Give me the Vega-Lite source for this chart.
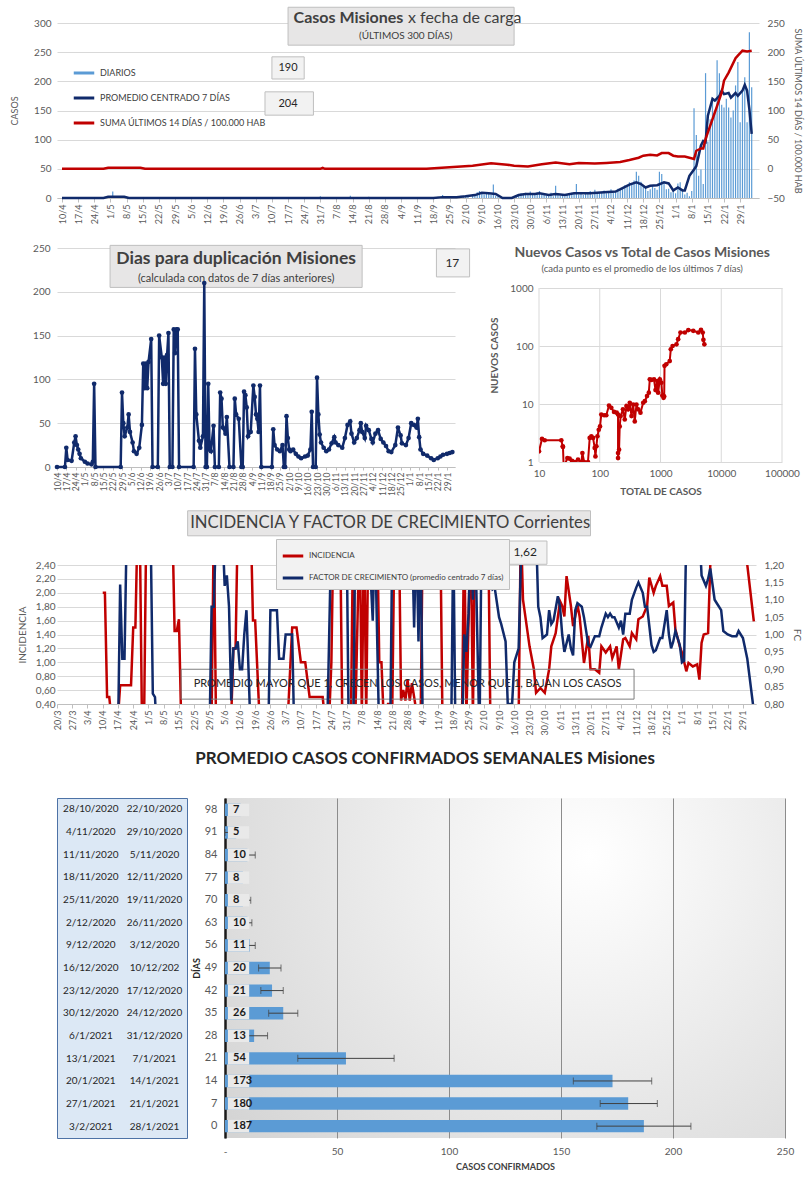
{
"$schema": "https://vega.github.io/schema/vega-lite/v6.json",
"padding": {"left": 10, "top": 6, "right": 4, "bottom": 4},
"background": "white",
"spacing": 14,
"columns": 1,
"resolve": {"scale": {"color": "independent"}, "legend": {"color": "independent"}},
"config": {
  "font": "Lato",
  "locale": {"number": {"decimal": ",", "thousands": ".", "grouping": [3], "currency": ["$", ""]}},
  "view": {"stroke": null},
  "axis": {"labelColor": "#595959", "titleColor": "#595959", "titleFontWeight": "normal", "gridColor": "#d9d9d9", "domainColor": "#bfbfbf", "tickColor": "#bfbfbf", "labelOverlap": false, "labelFlush": false}
},
"datasets": {
  "diarios": [{"d":"2020-05-02","v":11},{"d":"2020-05-03","v":3},{"d":"2020-05-04","v":2},{"d":"2020-07-31","v":3},{"d":"2020-08-13","v":4},{"d":"2020-08-21","v":2},{"d":"2020-09-10","v":1},{"d":"2020-09-17","v":1},{"d":"2020-09-20","v":2},{"d":"2020-09-22","v":5},{"d":"2020-09-24","v":2},{"d":"2020-09-27","v":3},{"d":"2020-09-30","v":4},{"d":"2020-10-01","v":2},{"d":"2020-10-02","v":5},{"d":"2020-10-03","v":3},{"d":"2020-10-05","v":6},{"d":"2020-10-06","v":4},{"d":"2020-10-07","v":10},{"d":"2020-10-08","v":12},{"d":"2020-10-09","v":8},{"d":"2020-10-10","v":6},{"d":"2020-10-11","v":9},{"d":"2020-10-12","v":7},{"d":"2020-10-13","v":5},{"d":"2020-10-14","v":23},{"d":"2020-10-15","v":4},{"d":"2020-10-16","v":3},{"d":"2020-10-24","v":3},{"d":"2020-10-25","v":6},{"d":"2020-10-26","v":8},{"d":"2020-10-27","v":5},{"d":"2020-10-28","v":9},{"d":"2020-10-29","v":7},{"d":"2020-10-30","v":11},{"d":"2020-10-31","v":6},{"d":"2020-11-01","v":8},{"d":"2020-11-02","v":10},{"d":"2020-11-03","v":12},{"d":"2020-11-04","v":5},{"d":"2020-11-05","v":7},{"d":"2020-11-06","v":4},{"d":"2020-11-07","v":6},{"d":"2020-11-08","v":9},{"d":"2020-11-09","v":3},{"d":"2020-11-10","v":21},{"d":"2020-11-11","v":5},{"d":"2020-11-12","v":4},{"d":"2020-11-13","v":6},{"d":"2020-11-14","v":3},{"d":"2020-11-15","v":7},{"d":"2020-11-16","v":5},{"d":"2020-11-17","v":9},{"d":"2020-11-18","v":8},{"d":"2020-11-19","v":24},{"d":"2020-11-20","v":6},{"d":"2020-11-21","v":7},{"d":"2020-11-22","v":5},{"d":"2020-11-23","v":9},{"d":"2020-11-24","v":8},{"d":"2020-11-25","v":12},{"d":"2020-11-26","v":6},{"d":"2020-11-27","v":14},{"d":"2020-11-28","v":7},{"d":"2020-11-29","v":10},{"d":"2020-11-30","v":9},{"d":"2020-12-01","v":13},{"d":"2020-12-02","v":8},{"d":"2020-12-03","v":11},{"d":"2020-12-04","v":15},{"d":"2020-12-05","v":9},{"d":"2020-12-06","v":12},{"d":"2020-12-07","v":16},{"d":"2020-12-08","v":14},{"d":"2020-12-09","v":18},{"d":"2020-12-10","v":22},{"d":"2020-12-11","v":19},{"d":"2020-12-12","v":27},{"d":"2020-12-13","v":24},{"d":"2020-12-14","v":30},{"d":"2020-12-15","v":45},{"d":"2020-12-16","v":38},{"d":"2020-12-17","v":28},{"d":"2020-12-18","v":22},{"d":"2020-12-19","v":18},{"d":"2020-12-20","v":12},{"d":"2020-12-21","v":15},{"d":"2020-12-22","v":20},{"d":"2020-12-23","v":17},{"d":"2020-12-24","v":14},{"d":"2020-12-25","v":45},{"d":"2020-12-26","v":41},{"d":"2020-12-27","v":28},{"d":"2020-12-28","v":15},{"d":"2020-12-29","v":16},{"d":"2020-12-30","v":10},{"d":"2020-12-31","v":12},{"d":"2021-01-01","v":8},{"d":"2021-01-02","v":25},{"d":"2021-01-03","v":27},{"d":"2021-01-04","v":12},{"d":"2021-01-05","v":6},{"d":"2021-01-06","v":9},{"d":"2021-01-07","v":3},{"d":"2021-01-08","v":12},{"d":"2021-01-09","v":154},{"d":"2021-01-10","v":108},{"d":"2021-01-11","v":38},{"d":"2021-01-12","v":49},{"d":"2021-01-13","v":24},{"d":"2021-01-14","v":214},{"d":"2021-01-15","v":97},{"d":"2021-01-16","v":135},{"d":"2021-01-17","v":172},{"d":"2021-01-18","v":150},{"d":"2021-01-19","v":236},{"d":"2021-01-20","v":214},{"d":"2021-01-21","v":160},{"d":"2021-01-22","v":155},{"d":"2021-01-23","v":170},{"d":"2021-01-24","v":155},{"d":"2021-01-25","v":138},{"d":"2021-01-26","v":150},{"d":"2021-01-27","v":193},{"d":"2021-01-28","v":233},{"d":"2021-01-29","v":130},{"d":"2021-01-30","v":184},{"d":"2021-01-31","v":207},{"d":"2021-02-01","v":130},{"d":"2021-02-02","v":284},{"d":"2021-02-03","v":190}],
  "prom": [{"d":"2020-04-10","v":0},{"d":"2020-04-28","v":0},{"d":"2020-04-30","v":2},{"d":"2020-05-07","v":2},{"d":"2020-05-09","v":0},{"d":"2020-09-18","v":0},{"d":"2020-09-22","v":1.5},{"d":"2020-09-28","v":1.5},{"d":"2020-10-02","v":3},{"d":"2020-10-06","v":5},{"d":"2020-10-09","v":9},{"d":"2020-10-12","v":8},{"d":"2020-10-15","v":7},{"d":"2020-10-18","v":0},{"d":"2020-10-22","v":0},{"d":"2020-10-25","v":5},{"d":"2020-10-28","v":7},{"d":"2020-11-01","v":7},{"d":"2020-11-03","v":8},{"d":"2020-11-07","v":5},{"d":"2020-11-10","v":7},{"d":"2020-11-14","v":5},{"d":"2020-11-18","v":8},{"d":"2020-11-25","v":8},{"d":"2020-12-01","v":10},{"d":"2020-12-06","v":11},{"d":"2020-12-09","v":17},{"d":"2020-12-12","v":23},{"d":"2020-12-15","v":27},{"d":"2020-12-17","v":24},{"d":"2020-12-19","v":18},{"d":"2020-12-21","v":21},{"d":"2020-12-24","v":22},{"d":"2020-12-27","v":27},{"d":"2020-12-29","v":25},{"d":"2020-12-31","v":13},{"d":"2021-01-02","v":18},{"d":"2021-01-04","v":13},{"d":"2021-01-05","v":13},{"d":"2021-01-07","v":38},{"d":"2021-01-09","v":49},{"d":"2021-01-10","v":55},{"d":"2021-01-12","v":90},{"d":"2021-01-13","v":98},{"d":"2021-01-14","v":96},{"d":"2021-01-15","v":141},{"d":"2021-01-17","v":170},{"d":"2021-01-18","v":167},{"d":"2021-01-20","v":175},{"d":"2021-01-21","v":184},{"d":"2021-01-22","v":178},{"d":"2021-01-24","v":180},{"d":"2021-01-25","v":172},{"d":"2021-01-27","v":180},{"d":"2021-01-28","v":175},{"d":"2021-01-30","v":184},{"d":"2021-01-31","v":194},{"d":"2021-02-01","v":184},{"d":"2021-02-02","v":152},{"d":"2021-02-03","v":110}],
  "suma": [{"d":"2020-04-10","v":0},{"d":"2020-04-28","v":0},{"d":"2020-04-30","v":2},{"d":"2020-05-14","v":2},{"d":"2020-05-16","v":0},{"d":"2020-07-31","v":0},{"d":"2020-08-01","v":1.5},{"d":"2020-08-02","v":0},{"d":"2020-09-15","v":0},{"d":"2020-09-25","v":2.6},{"d":"2020-10-05","v":5.4},{"d":"2020-10-13","v":9.5},{"d":"2020-10-20","v":7},{"d":"2020-10-23","v":5.4},{"d":"2020-10-29","v":4},{"d":"2020-11-04","v":7.7},{"d":"2020-11-10","v":10.9},{"d":"2020-11-16","v":7.7},{"d":"2020-11-20","v":10},{"d":"2020-11-27","v":9},{"d":"2020-12-02","v":10},{"d":"2020-12-08","v":11.6},{"d":"2020-12-12","v":15},{"d":"2020-12-16","v":19},{"d":"2020-12-18","v":22.5},{"d":"2020-12-21","v":24},{"d":"2020-12-24","v":23},{"d":"2020-12-26","v":27},{"d":"2020-12-29","v":27},{"d":"2020-12-31","v":22.5},{"d":"2021-01-02","v":21},{"d":"2021-01-05","v":21},{"d":"2021-01-07","v":19},{"d":"2021-01-09","v":17},{"d":"2021-01-10","v":31},{"d":"2021-01-12","v":35},{"d":"2021-01-13","v":35},{"d":"2021-01-14","v":51},{"d":"2021-01-15","v":62.6},{"d":"2021-01-17","v":85},{"d":"2021-01-19","v":108},{"d":"2021-01-21","v":131},{"d":"2021-01-22","v":151},{"d":"2021-01-24","v":165},{"d":"2021-01-27","v":189.5},{"d":"2021-01-28","v":194},{"d":"2021-01-30","v":202.5},{"d":"2021-02-01","v":201},{"d":"2021-02-03","v":202.5}],
  "dup": [{"d":"2020-04-10","v":0},{"d":"2020-04-16","v":0},{"d":"2020-04-17","v":22},{"d":"2020-04-18","v":8},{"d":"2020-04-21","v":7},{"d":"2020-04-23","v":28},{"d":"2020-04-24","v":35},{"d":"2020-04-25","v":25},{"d":"2020-04-26","v":20},{"d":"2020-04-27","v":15},{"d":"2020-04-28","v":10},{"d":"2020-05-01","v":6},{"d":"2020-05-03","v":4},{"d":"2020-05-06","v":3},{"d":"2020-05-07","v":6},{"d":"2020-05-08","v":95},{"d":"2020-05-09","v":0},{"d":"2020-05-28","v":0},{"d":"2020-05-29","v":85},{"d":"2020-05-30","v":50},{"d":"2020-05-31","v":35},{"d":"2020-06-02","v":45},{"d":"2020-06-03","v":60},{"d":"2020-06-04","v":40},{"d":"2020-06-06","v":28},{"d":"2020-06-07","v":18},{"d":"2020-06-09","v":15},{"d":"2020-06-11","v":22},{"d":"2020-06-13","v":48},{"d":"2020-06-14","v":118},{"d":"2020-06-15","v":90},{"d":"2020-06-16","v":118},{"d":"2020-06-17","v":90},{"d":"2020-06-18","v":120},{"d":"2020-06-20","v":146},{"d":"2020-06-21","v":0},{"d":"2020-06-25","v":0},{"d":"2020-06-26","v":150},{"d":"2020-06-28","v":125},{"d":"2020-06-29","v":95},{"d":"2020-06-30","v":125},{"d":"2020-07-01","v":95},{"d":"2020-07-02","v":128},{"d":"2020-07-03","v":153},{"d":"2020-07-04","v":0},{"d":"2020-07-06","v":0},{"d":"2020-07-07","v":157},{"d":"2020-07-08","v":130},{"d":"2020-07-09","v":157},{"d":"2020-07-10","v":157},{"d":"2020-07-11","v":0},{"d":"2020-07-22","v":0},{"d":"2020-07-23","v":135},{"d":"2020-07-24","v":60},{"d":"2020-07-26","v":30},{"d":"2020-07-27","v":22},{"d":"2020-07-29","v":35},{"d":"2020-07-30","v":210},{"d":"2020-07-31","v":0},{"d":"2020-08-01","v":0},{"d":"2020-08-02","v":95},{"d":"2020-08-03","v":20},{"d":"2020-08-04","v":18},{"d":"2020-08-06","v":47},{"d":"2020-08-07","v":0},{"d":"2020-08-10","v":0},{"d":"2020-08-11","v":85},{"d":"2020-08-12","v":78},{"d":"2020-08-13","v":45},{"d":"2020-08-15","v":38},{"d":"2020-08-16","v":57},{"d":"2020-08-18","v":0},{"d":"2020-08-21","v":0},{"d":"2020-08-22","v":78},{"d":"2020-08-23","v":60},{"d":"2020-08-25","v":55},{"d":"2020-08-27","v":0},{"d":"2020-08-28","v":0},{"d":"2020-08-29","v":86},{"d":"2020-08-30","v":82},{"d":"2020-08-31","v":68},{"d":"2020-09-01","v":35},{"d":"2020-09-03","v":40},{"d":"2020-09-05","v":93},{"d":"2020-09-06","v":80},{"d":"2020-09-07","v":60},{"d":"2020-09-08","v":55},{"d":"2020-09-09","v":40},{"d":"2020-09-10","v":93},{"d":"2020-09-11","v":0},{"d":"2020-09-19","v":0},{"d":"2020-09-20","v":43},{"d":"2020-09-21","v":25},{"d":"2020-09-23","v":20},{"d":"2020-09-25","v":18},{"d":"2020-09-27","v":25},{"d":"2020-09-28","v":0},{"d":"2020-09-29","v":0},{"d":"2020-09-30","v":58},{"d":"2020-10-01","v":33},{"d":"2020-10-02","v":20},{"d":"2020-10-03","v":18},{"d":"2020-10-05","v":20},{"d":"2020-10-07","v":15},{"d":"2020-10-09","v":12},{"d":"2020-10-11","v":10},{"d":"2020-10-14","v":12},{"d":"2020-10-16","v":13},{"d":"2020-10-18","v":20},{"d":"2020-10-19","v":63},{"d":"2020-10-20","v":0},{"d":"2020-10-22","v":0},{"d":"2020-10-23","v":102},{"d":"2020-10-24","v":60},{"d":"2020-10-25","v":37},{"d":"2020-10-26","v":28},{"d":"2020-10-28","v":22},{"d":"2020-10-30","v":18},{"d":"2020-11-01","v":20},{"d":"2020-11-03","v":27},{"d":"2020-11-05","v":34},{"d":"2020-11-06","v":28},{"d":"2020-11-08","v":25},{"d":"2020-11-11","v":22},{"d":"2020-11-13","v":33},{"d":"2020-11-15","v":48},{"d":"2020-11-17","v":52},{"d":"2020-11-18","v":38},{"d":"2020-11-20","v":28},{"d":"2020-11-22","v":33},{"d":"2020-11-24","v":42},{"d":"2020-11-25","v":50},{"d":"2020-11-26","v":40},{"d":"2020-11-28","v":33},{"d":"2020-11-29","v":47},{"d":"2020-12-01","v":42},{"d":"2020-12-03","v":32},{"d":"2020-12-04","v":28},{"d":"2020-12-06","v":38},{"d":"2020-12-08","v":42},{"d":"2020-12-10","v":32},{"d":"2020-12-12","v":28},{"d":"2020-12-14","v":24},{"d":"2020-12-16","v":18},{"d":"2020-12-18","v":17},{"d":"2020-12-21","v":25},{"d":"2020-12-23","v":45},{"d":"2020-12-25","v":36},{"d":"2020-12-26","v":27},{"d":"2020-12-29","v":25},{"d":"2020-12-31","v":33},{"d":"2021-01-02","v":50},{"d":"2021-01-04","v":48},{"d":"2021-01-06","v":45},{"d":"2021-01-07","v":55},{"d":"2021-01-08","v":34},{"d":"2021-01-09","v":20},{"d":"2021-01-11","v":15},{"d":"2021-01-14","v":13},{"d":"2021-01-17","v":10},{"d":"2021-01-19","v":8},{"d":"2021-01-22","v":10},{"d":"2021-01-24","v":12},{"d":"2021-01-26","v":14},{"d":"2021-01-29","v":15},{"d":"2021-01-31","v":16},{"d":"2021-02-02","v":17}],
  "nvt": [{"total":10,"nuevos":1.53},{"total":11.2,"nuevos":2.5},{"total":12.4,"nuevos":2.37},{"total":23.3,"nuevos":2.37},{"total":24.6,"nuevos":1.87},{"total":24.8,"nuevos":1.82},{"total":25.5,"nuevos":0.8},{"total":29.3,"nuevos":1.17},{"total":31.9,"nuevos":1.14},{"total":35,"nuevos":1.05},{"total":38.7,"nuevos":1.0},{"total":43.9,"nuevos":1.1},{"total":49.9,"nuevos":1.0},{"total":51.8,"nuevos":1.43},{"total":55.3,"nuevos":1.0},{"total":64,"nuevos":1.0},{"total":68.3,"nuevos":2.6},{"total":72.7,"nuevos":2.78},{"total":77.6,"nuevos":2.6},{"total":82.6,"nuevos":1.75},{"total":84.9,"nuevos":1.25},{"total":88.1,"nuevos":1.87},{"total":91.6,"nuevos":2.78},{"total":96.3,"nuevos":3.6},{"total":101,"nuevos":4.1},{"total":106,"nuevos":6.6},{"total":118,"nuevos":6.4},{"total":128,"nuevos":6.4},{"total":142,"nuevos":9.4},{"total":155,"nuevos":8.6},{"total":172,"nuevos":7.3},{"total":190,"nuevos":7.1},{"total":200,"nuevos":6.6},{"total":200,"nuevos":1.43},{"total":200,"nuevos":1.17},{"total":208,"nuevos":1.63},{"total":213,"nuevos":4.1},{"total":221,"nuevos":6.2},{"total":241,"nuevos":8.1},{"total":258,"nuevos":5.4},{"total":275,"nuevos":9.2},{"total":292,"nuevos":8.1},{"total":312,"nuevos":10.5},{"total":333,"nuevos":6.2},{"total":355,"nuevos":9.8},{"total":377,"nuevos":5.0},{"total":402,"nuevos":9.8},{"total":428,"nuevos":8.1},{"total":468,"nuevos":7.1},{"total":519,"nuevos":10.5},{"total":552,"nuevos":11.2},{"total":600,"nuevos":13.7},{"total":642,"nuevos":15.7},{"total":666,"nuevos":26.6},{"total":708,"nuevos":26},{"total":782,"nuevos":26.6},{"total":827,"nuevos":17.4},{"total":885,"nuevos":24.9},{"total":914,"nuevos":15.7},{"total":975,"nuevos":26.6},{"total":1035,"nuevos":23.3},{"total":1072,"nuevos":14},{"total":1122,"nuevos":12.8},{"total":1150,"nuevos":13.5},{"total":1165,"nuevos":45.5},{"total":1244,"nuevos":48.5},{"total":1418,"nuevos":55},{"total":1477,"nuevos":88},{"total":1581,"nuevos":100},{"total":1833,"nuevos":107},{"total":1952,"nuevos":131},{"total":2130,"nuevos":171},{"total":2520,"nuevos":171},{"total":2868,"nuevos":188},{"total":3462,"nuevos":183},{"total":4180,"nuevos":171},{"total":4638,"nuevos":190},{"total":4955,"nuevos":171},{"total":5084,"nuevos":128},{"total":5270,"nuevos":107}],
  "inc": [{"d":"2020-04-10","v":2.0},{"d":"2020-04-11","v":2.0},{"d":"2020-04-12","v":0.5},{"d":"2020-04-13","v":0.5},{"d":"2020-04-14","v":0.2},{"d":"2020-04-17","v":0.2},{"d":"2020-04-18","v":0.67},{"d":"2020-04-23","v":0.67},{"d":"2020-04-24","v":1.5},{"d":"2020-04-25","v":1.5},{"d":"2020-04-26","v":3},{"d":"2020-04-27","v":3},{"d":"2020-04-28","v":0.2},{"d":"2020-04-29","v":0.2},{"d":"2020-04-30","v":3},{"d":"2020-05-12","v":3},{"d":"2020-05-13","v":1.45},{"d":"2020-05-14","v":1.45},{"d":"2020-05-15","v":1.62},{"d":"2020-05-16","v":0.2},{"d":"2020-05-30","v":0.2},{"d":"2020-05-31","v":3},{"d":"2020-06-01","v":0.2},{"d":"2020-06-08","v":0.2},{"d":"2020-06-09","v":1.2},{"d":"2020-06-10","v":1.2},{"d":"2020-06-11","v":3},{"d":"2020-06-17","v":3},{"d":"2020-06-18","v":1.6},{"d":"2020-06-19","v":1.6},{"d":"2020-06-21","v":0.2},{"d":"2020-07-04","v":0.2},{"d":"2020-07-06","v":1.5},{"d":"2020-07-08","v":1.5},{"d":"2020-07-10","v":1.0},{"d":"2020-07-12","v":1.0},{"d":"2020-07-14","v":0.5},{"d":"2020-07-20","v":0.5},{"d":"2020-07-21","v":0.2},{"d":"2020-07-23","v":0.2},{"d":"2020-07-24","v":1.0},{"d":"2020-07-25","v":3},{"d":"2020-07-28","v":3},{"d":"2020-07-29","v":0.2},{"d":"2020-08-02","v":0.2},{"d":"2020-08-03","v":3},{"d":"2020-08-04","v":0.2},{"d":"2020-08-06","v":3},{"d":"2020-08-07","v":0.2},{"d":"2020-08-08","v":3},{"d":"2020-08-09","v":0.2},{"d":"2020-08-10","v":3},{"d":"2020-08-14","v":3},{"d":"2020-08-15","v":1.0},{"d":"2020-08-16","v":1.0},{"d":"2020-08-17","v":0.2},{"d":"2020-08-19","v":0.4},{"d":"2020-08-21","v":0.4},{"d":"2020-08-22","v":3},{"d":"2020-08-24","v":3},{"d":"2020-08-25","v":0.45},{"d":"2020-08-26","v":0.6},{"d":"2020-08-27","v":0.45},{"d":"2020-08-28","v":0.75},{"d":"2020-08-29","v":0.45},{"d":"2020-08-30","v":0.7},{"d":"2020-09-01","v":0.3},{"d":"2020-09-03","v":0.2},{"d":"2020-09-04","v":3},{"d":"2020-09-06","v":2.3},{"d":"2020-09-07","v":2.15},{"d":"2020-09-08","v":2.3},{"d":"2020-09-09","v":2.15},{"d":"2020-09-10","v":2.25},{"d":"2020-09-11","v":3},{"d":"2020-09-12","v":3},{"d":"2020-09-13","v":0.2},{"d":"2020-09-22","v":0.2},{"d":"2020-09-23","v":3},{"d":"2020-09-24","v":0.2},{"d":"2020-09-26","v":3},{"d":"2020-09-27","v":0.2},{"d":"2020-09-28","v":3},{"d":"2020-09-30","v":2.2},{"d":"2020-10-01","v":2.3},{"d":"2020-10-02","v":2.1},{"d":"2020-10-03","v":2.3},{"d":"2020-10-04","v":3},{"d":"2020-10-05","v":0.2},{"d":"2020-10-18","v":0.2},{"d":"2020-10-19","v":3},{"d":"2020-10-20","v":1.9},{"d":"2020-10-23","v":1.23},{"d":"2020-10-25","v":0.9},{"d":"2020-10-26","v":0.56},{"d":"2020-10-28","v":0.63},{"d":"2020-10-30","v":0.56},{"d":"2020-11-01","v":0.9},{"d":"2020-11-02","v":1.23},{"d":"2020-11-04","v":1.42},{"d":"2020-11-06","v":1.88},{"d":"2020-11-07","v":1.81},{"d":"2020-11-08","v":1.66},{"d":"2020-11-09","v":2.24},{"d":"2020-11-11","v":1.81},{"d":"2020-11-12","v":1.52},{"d":"2020-11-13","v":1.66},{"d":"2020-11-14","v":1.83},{"d":"2020-11-15","v":1.66},{"d":"2020-11-17","v":0.99},{"d":"2020-11-19","v":1.38},{"d":"2020-11-20","v":0.9},{"d":"2020-11-22","v":0.9},{"d":"2020-11-24","v":0.85},{"d":"2020-11-25","v":1.23},{"d":"2020-11-27","v":1.14},{"d":"2020-11-29","v":1.23},{"d":"2020-11-30","v":1.06},{"d":"2020-12-02","v":1.23},{"d":"2020-12-03","v":0.9},{"d":"2020-12-05","v":1.33},{"d":"2020-12-06","v":1.35},{"d":"2020-12-08","v":1.23},{"d":"2020-12-09","v":1.42},{"d":"2020-12-11","v":1.33},{"d":"2020-12-12","v":1.62},{"d":"2020-12-14","v":1.66},{"d":"2020-12-16","v":1.81},{"d":"2020-12-17","v":2.22},{"d":"2020-12-19","v":2.0},{"d":"2020-12-20","v":2.1},{"d":"2020-12-22","v":2.24},{"d":"2020-12-23","v":2.1},{"d":"2020-12-25","v":2.1},{"d":"2020-12-26","v":1.81},{"d":"2020-12-28","v":1.86},{"d":"2020-12-29","v":1.47},{"d":"2020-12-31","v":1.23},{"d":"2021-01-01","v":1.14},{"d":"2021-01-03","v":0.87},{"d":"2021-01-04","v":0.99},{"d":"2021-01-06","v":0.94},{"d":"2021-01-08","v":0.97},{"d":"2021-01-09","v":0.75},{"d":"2021-01-10","v":1.28},{"d":"2021-01-11","v":1.4},{"d":"2021-01-13","v":1.42},{"d":"2021-01-14","v":2.4},{"d":"2021-01-16","v":3},{"d":"2021-01-30","v":3},{"d":"2021-01-31","v":2.4},{"d":"2021-02-03","v":1.59}],
  "fc": [{"d":"2020-04-17","v":0.7},{"d":"2020-04-18","v":1.144},{"d":"2020-04-19","v":0.93},{"d":"2020-04-20","v":0.93},{"d":"2020-04-21","v":1.3},{"d":"2020-05-02","v":1.3},{"d":"2020-05-03","v":0.83},{"d":"2020-05-04","v":0.82},{"d":"2020-05-05","v":0.7},{"d":"2020-05-29","v":0.7},{"d":"2020-05-30","v":1.08},{"d":"2020-05-31","v":1.08},{"d":"2020-06-01","v":1.3},{"d":"2020-06-04","v":1.3},{"d":"2020-06-05","v":1.14},{"d":"2020-06-06","v":1.17},{"d":"2020-06-07","v":1.08},{"d":"2020-06-08","v":0.81},{"d":"2020-06-09","v":0.96},{"d":"2020-06-10","v":0.96},{"d":"2020-06-11","v":0.98},{"d":"2020-06-12","v":0.9},{"d":"2020-06-13","v":0.9},{"d":"2020-06-14","v":1.0},{"d":"2020-06-15","v":1.07},{"d":"2020-06-16","v":0.89},{"d":"2020-06-17","v":0.7},{"d":"2020-06-25","v":0.7},{"d":"2020-06-26","v":1.07},{"d":"2020-06-29","v":1.07},{"d":"2020-06-30","v":0.93},{"d":"2020-07-02","v":0.93},{"d":"2020-07-03","v":1.0},{"d":"2020-07-06","v":1.0},{"d":"2020-07-07","v":0.7},{"d":"2020-07-22","v":0.7},{"d":"2020-07-24","v":1.3},{"d":"2020-07-31","v":1.3},{"d":"2020-08-01","v":0.7},{"d":"2020-08-03","v":0.7},{"d":"2020-08-04","v":1.3},{"d":"2020-08-10","v":1.3},{"d":"2020-08-12","v":1.04},{"d":"2020-08-13","v":1.3},{"d":"2020-08-15","v":0.7},{"d":"2020-08-20","v":0.7},{"d":"2020-08-21","v":1.3},{"d":"2020-08-30","v":1.3},{"d":"2020-08-31","v":1.02},{"d":"2020-09-01","v":1.3},{"d":"2020-09-02","v":0.98},{"d":"2020-09-03","v":1.3},{"d":"2020-09-04","v":0.7},{"d":"2020-09-17","v":0.7},{"d":"2020-09-18","v":1.3},{"d":"2020-09-19","v":0.7},{"d":"2020-09-22","v":0.7},{"d":"2020-09-23","v":1.0},{"d":"2020-09-24","v":0.95},{"d":"2020-09-25","v":1.06},{"d":"2020-09-26","v":1.3},{"d":"2020-09-27","v":1.1},{"d":"2020-09-28","v":1.3},{"d":"2020-09-30","v":0.7},{"d":"2020-10-01","v":1.3},{"d":"2020-10-03","v":1.2},{"d":"2020-10-04","v":1.17},{"d":"2020-10-06","v":1.13},{"d":"2020-10-07","v":1.135},{"d":"2020-10-09","v":1.05},{"d":"2020-10-10","v":1.03},{"d":"2020-10-12","v":0.98},{"d":"2020-10-13","v":0.8},{"d":"2020-10-15","v":0.8},{"d":"2020-10-16","v":0.92},{"d":"2020-10-18","v":0.96},{"d":"2020-10-19","v":1.2},{"d":"2020-10-20","v":1.3},{"d":"2020-10-26","v":1.3},{"d":"2020-10-27","v":1.08},{"d":"2020-10-28","v":1.05},{"d":"2020-10-29","v":0.99},{"d":"2020-10-31","v":1.0},{"d":"2020-11-01","v":1.07},{"d":"2020-11-02","v":1.03},{"d":"2020-11-03","v":1.04},{"d":"2020-11-05","v":1.11},{"d":"2020-11-06","v":1.08},{"d":"2020-11-07","v":1.0},{"d":"2020-11-08","v":0.95},{"d":"2020-11-10","v":1.0},{"d":"2020-11-11","v":0.96},{"d":"2020-11-12","v":0.94},{"d":"2020-11-13","v":1.07},{"d":"2020-11-14","v":1.09},{"d":"2020-11-16","v":1.08},{"d":"2020-11-17","v":1.05},{"d":"2020-11-19","v":0.97},{"d":"2020-11-20","v":0.965},{"d":"2020-11-21","v":0.98},{"d":"2020-11-22","v":0.995},{"d":"2020-11-24","v":0.995},{"d":"2020-11-25","v":1.02},{"d":"2020-11-27","v":1.06},{"d":"2020-11-28","v":1.05},{"d":"2020-11-29","v":1.06},{"d":"2020-11-30","v":1.05},{"d":"2020-12-01","v":1.05},{"d":"2020-12-03","v":1.02},{"d":"2020-12-04","v":1.04},{"d":"2020-12-05","v":1.0},{"d":"2020-12-06","v":1.06},{"d":"2020-12-08","v":1.06},{"d":"2020-12-09","v":1.1},{"d":"2020-12-11","v":1.135},{"d":"2020-12-12","v":1.15},{"d":"2020-12-14","v":1.12},{"d":"2020-12-15","v":1.08},{"d":"2020-12-16","v":1.08},{"d":"2020-12-18","v":0.97},{"d":"2020-12-19","v":0.95},{"d":"2020-12-20","v":0.955},{"d":"2020-12-22","v":0.99},{"d":"2020-12-23","v":0.99},{"d":"2020-12-25","v":1.07},{"d":"2020-12-26","v":1.0},{"d":"2020-12-27","v":0.96},{"d":"2020-12-28","v":0.98},{"d":"2020-12-29","v":1.01},{"d":"2020-12-31","v":0.97},{"d":"2021-01-01","v":0.92},{"d":"2021-01-02","v":0.925},{"d":"2021-01-03","v":1.3},{"d":"2021-01-09","v":1.3},{"d":"2021-01-10","v":1.17},{"d":"2021-01-12","v":1.14},{"d":"2021-01-13","v":1.16},{"d":"2021-01-14","v":1.19},{"d":"2021-01-16","v":1.1},{"d":"2021-01-17","v":1.09},{"d":"2021-01-19","v":1.07},{"d":"2021-01-20","v":1.01},{"d":"2021-01-22","v":1.0},{"d":"2021-01-24","v":0.995},{"d":"2021-01-26","v":0.995},{"d":"2021-01-27","v":1.01},{"d":"2021-01-29","v":0.99},{"d":"2021-01-31","v":0.93},{"d":"2021-02-01","v":0.88},{"d":"2021-02-03","v":0.78}],
  "sem": [{"dias":98,"fin":"28/10/2020","ini":"22/10/2020","v":7,"lo":5,"hi":9},{"dias":91,"fin":"4/11/2020","ini":"29/10/2020","v":5,"lo":0,"hi":10},{"dias":84,"fin":"11/11/2020","ini":"5/11/2020","v":10,"lo":6.5,"hi":13.5},{"dias":77,"fin":"18/11/2020","ini":"12/11/2020","v":8,"lo":6,"hi":10},{"dias":70,"fin":"25/11/2020","ini":"19/11/2020","v":8,"lo":4.5,"hi":11.5},{"dias":63,"fin":"2/12/2020","ini":"26/11/2020","v":10,"lo":8,"hi":12},{"dias":56,"fin":"9/12/2020","ini":"3/12/2020","v":11,"lo":8.5,"hi":13.5},{"dias":49,"fin":"16/12/2020","ini":"10/12/202","v":20,"lo":15,"hi":25},{"dias":42,"fin":"23/12/2020","ini":"17/12/2020","v":21,"lo":16,"hi":26},{"dias":35,"fin":"30/12/2020","ini":"24/12/2020","v":26,"lo":19.5,"hi":32.5},{"dias":28,"fin":"6/1/2021","ini":"31/12/2020","v":13,"lo":7,"hi":19},{"dias":21,"fin":"13/1/2021","ini":"7/1/2021","v":54,"lo":32.5,"hi":75.5},{"dias":14,"fin":"20/1/2021","ini":"14/1/2021","v":173,"lo":155.5,"hi":190.5},{"dias":7,"fin":"27/1/2021","ini":"21/1/2021","v":180,"lo":167.5,"hi":193},{"dias":0,"fin":"3/2/2021","ini":"28/1/2021","v":187,"lo":166,"hi":208}]
},
"concat": [
  {
    "width": 702, "height": 175,
    "layer": [
      {"layer": [
        {"data": {"values": [{"t": "box"}]}, "mark": {"type": "rect", "fill": "#e7e6e6", "stroke": "#bfbfbf"}, "encoding": {"x": {"datum": {"year": 2020, "month": 7, "date": 17, "utc": true}, "type": "temporal", "axis": {"values": {"expr": "sequence(utc(2020,3,10), utc(2021,0,30), 604800000)"}, "labelExpr": "utcFormat(datum.value, '%-d/%-m')", "labelAngle": 270, "labelFontSize": 9, "labelOverlap": false, "labelFlush": false, "title": null, "grid": false, "tickSize": 4, "labelPadding": 2}}, "x2": {"datum": {"year": 2020, "month": 10, "date": 23, "utc": true}}, "y": {"datum": 327, "type": "quantitative", "axis": {"values": [0, 50, 100, 150, 200, 250, 300], "title": "CASOS", "titleFontSize": 9, "titlePadding": 14, "labelFontSize": 10, "labelPadding": 6, "labelOverlap": false, "domain": false, "ticks": false, "grid": true}}, "y2": {"datum": 262}}},
        {"data": {"values": [{"t": "Casos Misiones"}]}, "mark": {"type": "text", "fontSize": 16, "fontWeight": "bold", "color": "#404040", "align": "right", "baseline": "middle"}, "encoding": {"x": {"datum": {"year": 2020, "month": 9, "date": 5, "utc": true}, "type": "temporal", "axis": {"values": {"expr": "sequence(utc(2020,3,10), utc(2021,0,30), 604800000)"}, "labelExpr": "utcFormat(datum.value, '%-d/%-m')", "labelAngle": 270, "labelFontSize": 9, "labelOverlap": false, "labelFlush": false, "title": null, "grid": false, "tickSize": 4, "labelPadding": 2}}, "y": {"datum": 309, "type": "quantitative", "axis": {"values": [0, 50, 100, 150, 200, 250, 300], "title": "CASOS", "titleFontSize": 9, "titlePadding": 14, "labelFontSize": 10, "labelPadding": 6, "labelOverlap": false, "domain": false, "ticks": false, "grid": true}}, "text": {"field": "t"}}},
        {"data": {"values": [{"t": "x fecha de carga"}]}, "mark": {"type": "text", "fontSize": 16, "color": "#404040", "align": "left", "baseline": "middle"}, "encoding": {"x": {"datum": {"year": 2020, "month": 9, "date": 7, "utc": true}, "type": "temporal", "axis": {"values": {"expr": "sequence(utc(2020,3,10), utc(2021,0,30), 604800000)"}, "labelExpr": "utcFormat(datum.value, '%-d/%-m')", "labelAngle": 270, "labelFontSize": 9, "labelOverlap": false, "labelFlush": false, "title": null, "grid": false, "tickSize": 4, "labelPadding": 2}}, "y": {"datum": 309, "type": "quantitative", "axis": {"values": [0, 50, 100, 150, 200, 250, 300], "title": "CASOS", "titleFontSize": 9, "titlePadding": 14, "labelFontSize": 10, "labelPadding": 6, "labelOverlap": false, "domain": false, "ticks": false, "grid": true}}, "text": {"field": "t"}}},
        {"data": {"values": [{"t": "(ÚLTIMOS 300 DÍAS)"}]}, "mark": {"type": "text", "fontSize": 10, "color": "#404040", "align": "center", "baseline": "middle"}, "encoding": {"x": {"datum": {"year": 2020, "month": 9, "date": 6, "utc": true}, "type": "temporal", "axis": {"values": {"expr": "sequence(utc(2020,3,10), utc(2021,0,30), 604800000)"}, "labelExpr": "utcFormat(datum.value, '%-d/%-m')", "labelAngle": 270, "labelFontSize": 9, "labelOverlap": false, "labelFlush": false, "title": null, "grid": false, "tickSize": 4, "labelPadding": 2}}, "y": {"datum": 278, "type": "quantitative", "axis": {"values": [0, 50, 100, 150, 200, 250, 300], "title": "CASOS", "titleFontSize": 9, "titlePadding": 14, "labelFontSize": 10, "labelPadding": 6, "labelOverlap": false, "domain": false, "ticks": false, "grid": true}}, "text": {"field": "t"}}},
        {"data": {"values": [{"t": "box"}]}, "mark": {"type": "rect", "fill": "#f2f2f2", "stroke": "#bfbfbf"}, "encoding": {"x": {"datum": {"year": 2020, "month": 7, "date": 10, "utc": true}, "type": "temporal", "axis": {"values": {"expr": "sequence(utc(2020,3,10), utc(2021,0,30), 604800000)"}, "labelExpr": "utcFormat(datum.value, '%-d/%-m')", "labelAngle": 270, "labelFontSize": 9, "labelOverlap": false, "labelFlush": false, "title": null, "grid": false, "tickSize": 4, "labelPadding": 2}}, "x2": {"datum": {"year": 2020, "month": 7, "date": 24, "utc": true}}, "y": {"datum": 242, "type": "quantitative", "axis": {"values": [0, 50, 100, 150, 200, 250, 300], "title": "CASOS", "titleFontSize": 9, "titlePadding": 14, "labelFontSize": 10, "labelPadding": 6, "labelOverlap": false, "domain": false, "ticks": false, "grid": true}}, "y2": {"datum": 204}}},
        {"data": {"values": [{"t": "190"}]}, "mark": {"type": "text", "fontSize": 11, "color": "#262626", "align": "center", "baseline": "middle"}, "encoding": {"x": {"datum": {"year": 2020, "month": 7, "date": 17, "utc": true}, "type": "temporal", "axis": {"values": {"expr": "sequence(utc(2020,3,10), utc(2021,0,30), 604800000)"}, "labelExpr": "utcFormat(datum.value, '%-d/%-m')", "labelAngle": 270, "labelFontSize": 9, "labelOverlap": false, "labelFlush": false, "title": null, "grid": false, "tickSize": 4, "labelPadding": 2}}, "y": {"datum": 223, "type": "quantitative", "axis": {"values": [0, 50, 100, 150, 200, 250, 300], "title": "CASOS", "titleFontSize": 9, "titlePadding": 14, "labelFontSize": 10, "labelPadding": 6, "labelOverlap": false, "domain": false, "ticks": false, "grid": true}}, "text": {"field": "t"}}},
        {"data": {"values": [{"t": "box"}]}, "mark": {"type": "rect", "fill": "#f2f2f2", "stroke": "#bfbfbf"}, "encoding": {"x": {"datum": {"year": 2020, "month": 7, "date": 7, "utc": true}, "type": "temporal", "axis": {"values": {"expr": "sequence(utc(2020,3,10), utc(2021,0,30), 604800000)"}, "labelExpr": "utcFormat(datum.value, '%-d/%-m')", "labelAngle": 270, "labelFontSize": 9, "labelOverlap": false, "labelFlush": false, "title": null, "grid": false, "tickSize": 4, "labelPadding": 2}}, "x2": {"datum": {"year": 2020, "month": 7, "date": 28, "utc": true}}, "y": {"datum": 182, "type": "quantitative", "axis": {"values": [0, 50, 100, 150, 200, 250, 300], "title": "CASOS", "titleFontSize": 9, "titlePadding": 14, "labelFontSize": 10, "labelPadding": 6, "labelOverlap": false, "domain": false, "ticks": false, "grid": true}}, "y2": {"datum": 142}}},
        {"data": {"values": [{"t": "204"}]}, "mark": {"type": "text", "fontSize": 11, "color": "#262626", "align": "center", "baseline": "middle"}, "encoding": {"x": {"datum": {"year": 2020, "month": 7, "date": 17, "utc": true}, "type": "temporal", "axis": {"values": {"expr": "sequence(utc(2020,3,10), utc(2021,0,30), 604800000)"}, "labelExpr": "utcFormat(datum.value, '%-d/%-m')", "labelAngle": 270, "labelFontSize": 9, "labelOverlap": false, "labelFlush": false, "title": null, "grid": false, "tickSize": 4, "labelPadding": 2}}, "y": {"datum": 162, "type": "quantitative", "axis": {"values": [0, 50, 100, 150, 200, 250, 300], "title": "CASOS", "titleFontSize": 9, "titlePadding": 14, "labelFontSize": 10, "labelPadding": 6, "labelOverlap": false, "domain": false, "ticks": false, "grid": true}}, "text": {"field": "t"}}},
        {"data": {"name": "diarios"}, "mark": {"type": "bar", "size": 1.2}, "encoding": {
          "x": {"field": "d", "type": "temporal", "scale": {"type": "utc", "domain": [{"year": 2020, "month": 4, "date": 10, "utc": true}, {"year": 2021, "month": 2, "date": 4, "utc": true}]}, "axis": {"values": {"expr": "sequence(utc(2020,3,10), utc(2021,0,30), 604800000)"}, "labelExpr": "utcFormat(datum.value, '%-d/%-m')", "labelAngle": 270, "labelFontSize": 9, "labelOverlap": false, "labelFlush": false, "title": null, "grid": false, "tickSize": 4, "labelPadding": 2}},
          "y": {"field": "v", "type": "quantitative", "scale": {"domain": [0, 300], "nice": false}, "axis": {"values": [0, 50, 100, 150, 200, 250, 300], "title": "CASOS", "titleFontSize": 9, "titlePadding": 14, "labelFontSize": 10, "labelPadding": 6, "labelOverlap": false, "domain": false, "ticks": false, "grid": true}},
          "color": {"datum": "DIARIOS", "type": "nominal", "scale": {"domain": ["DIARIOS", "PROMEDIO CENTRADO 7 DÍAS", "SUMA ÚLTIMOS 14 DÍAS / 100.000 HAB"], "range": ["#5b9bd5", "#102a6b", "#c00000"]}, "legend": {"orient": "none", "legendX": 15, "legendY": 38, "title": null, "symbolType": "stroke", "symbolStrokeWidth": 3, "symbolSize": 420, "labelFontSize": 9, "labelColor": "#404040", "labelLimit": 0, "rowPadding": 7}}
        }},
        {"data": {"name": "prom"}, "mark": {"type": "line", "strokeWidth": 2.5}, "encoding": {"x": {"field": "d", "type": "temporal", "axis": {"values": {"expr": "sequence(utc(2020,3,10), utc(2021,0,30), 604800000)"}, "labelExpr": "utcFormat(datum.value, '%-d/%-m')", "labelAngle": 270, "labelFontSize": 9, "labelOverlap": false, "labelFlush": false, "title": null, "grid": false, "tickSize": 4, "labelPadding": 2}}, "y": {"field": "v", "type": "quantitative", "axis": {"values": [0, 50, 100, 150, 200, 250, 300], "title": "CASOS", "titleFontSize": 9, "titlePadding": 14, "labelFontSize": 10, "labelPadding": 6, "labelOverlap": false, "domain": false, "ticks": false, "grid": true}}, "color": {"datum": "PROMEDIO CENTRADO 7 DÍAS", "type": "nominal"}}}
      ]},
      {"data": {"name": "suma"}, "mark": {"type": "line", "strokeWidth": 2.5}, "encoding": {
        "x": {"field": "d", "type": "temporal", "axis": {"values": {"expr": "sequence(utc(2020,3,10), utc(2021,0,30), 604800000)"}, "labelExpr": "utcFormat(datum.value, '%-d/%-m')", "labelAngle": 270, "labelFontSize": 9, "labelOverlap": false, "labelFlush": false, "title": null, "grid": false, "tickSize": 4, "labelPadding": 2}},
        "y": {"field": "v", "type": "quantitative", "scale": {"domain": [-50, 250], "nice": false}, "axis": {"orient": "right", "values": [-50, 0, 50, 100, 150, 200, 250], "title": "SUMA  ÚLTIMOS 14 DÍAS / 100.000 HAB", "titleFontSize": 9, "labelFontSize": 10, "labelOverlap": false, "domain": false, "ticks": false, "grid": false, "labelPadding": 8, "titlePadding": 8}},
        "color": {"datum": "SUMA ÚLTIMOS 14 DÍAS / 100.000 HAB", "type": "nominal"}
      }}
    ],
    "resolve": {"scale": {"y": "independent"}}
  },
  {
    "spacing": 18,
    "hconcat": [
      {
        "width": 398, "height": 219,
        "layer": [
          {"data": {"values": [{"t": "box"}]}, "mark": {"type": "rect", "fill": "#e7e6e6", "stroke": "#bfbfbf"}, "encoding": {"x": {"datum": {"year": 2020, "month": 5, "date": 20, "utc": true}, "type": "temporal", "axis": {"values": {"expr": "sequence(utc(2020,3,10), utc(2021,0,30), 604800000)"}, "labelExpr": "utcFormat(datum.value, '%-d/%-m')", "labelAngle": 270, "labelFontSize": 8.5, "labelOverlap": false, "labelFlush": false, "title": null, "grid": false, "tickSize": 3, "labelPadding": 2}}, "x2": {"datum": {"year": 2020, "month": 11, "date": 26, "utc": true}}, "y": {"datum": 253, "type": "quantitative", "axis": {"values": [0, 50, 100, 150, 200, 250], "title": null, "labelFontSize": 10, "labelPadding": 7, "labelOverlap": false, "domain": false, "ticks": false, "grid": true}}, "y2": {"datum": 205}}},
          {"data": {"values": [{"t": "Dias para duplicación Misiones"}]}, "mark": {"type": "text", "fontSize": 17.5, "fontWeight": "bold", "color": "#404040", "align": "center", "baseline": "middle"}, "encoding": {"x": {"datum": {"year": 2020, "month": 8, "date": 23, "utc": true}, "type": "temporal", "axis": {"values": {"expr": "sequence(utc(2020,3,10), utc(2021,0,30), 604800000)"}, "labelExpr": "utcFormat(datum.value, '%-d/%-m')", "labelAngle": 270, "labelFontSize": 8.5, "labelOverlap": false, "labelFlush": false, "title": null, "grid": false, "tickSize": 3, "labelPadding": 2}}, "y": {"datum": 237, "type": "quantitative", "axis": {"values": [0, 50, 100, 150, 200, 250], "title": null, "labelFontSize": 10, "labelPadding": 7, "labelOverlap": false, "domain": false, "ticks": false, "grid": true}}, "text": {"field": "t"}}},
          {"data": {"values": [{"t": "(calculada con datos de 7 días anteriores)"}]}, "mark": {"type": "text", "fontSize": 11, "color": "#404040", "align": "center", "baseline": "middle"}, "encoding": {"x": {"datum": {"year": 2020, "month": 8, "date": 23, "utc": true}, "type": "temporal", "axis": {"values": {"expr": "sequence(utc(2020,3,10), utc(2021,0,30), 604800000)"}, "labelExpr": "utcFormat(datum.value, '%-d/%-m')", "labelAngle": 270, "labelFontSize": 8.5, "labelOverlap": false, "labelFlush": false, "title": null, "grid": false, "tickSize": 3, "labelPadding": 2}}, "y": {"datum": 215, "type": "quantitative", "axis": {"values": [0, 50, 100, 150, 200, 250], "title": null, "labelFontSize": 10, "labelPadding": 7, "labelOverlap": false, "domain": false, "ticks": false, "grid": true}}, "text": {"field": "t"}}},
          {"data": {"values": [{"t": "box"}]}, "mark": {"type": "rect", "fill": "#f2f2f2", "stroke": "#bfbfbf"}, "encoding": {"x": {"datum": {"year": 2021, "month": 1, "date": 21, "utc": true}, "type": "temporal", "axis": {"values": {"expr": "sequence(utc(2020,3,10), utc(2021,0,30), 604800000)"}, "labelExpr": "utcFormat(datum.value, '%-d/%-m')", "labelAngle": 270, "labelFontSize": 8.5, "labelOverlap": false, "labelFlush": false, "title": null, "grid": false, "tickSize": 3, "labelPadding": 2}}, "x2": {"datum": {"year": 2021, "month": 2, "date": 15, "utc": true}}, "y": {"datum": 249, "type": "quantitative", "axis": {"values": [0, 50, 100, 150, 200, 250], "title": null, "labelFontSize": 10, "labelPadding": 7, "labelOverlap": false, "domain": false, "ticks": false, "grid": true}}, "y2": {"datum": 217}}},
          {"data": {"values": [{"t": "17"}]}, "mark": {"type": "text", "fontSize": 12, "color": "#262626", "align": "center", "baseline": "middle"}, "encoding": {"x": {"datum": {"year": 2021, "month": 2, "date": 2, "utc": true}, "type": "temporal", "axis": {"values": {"expr": "sequence(utc(2020,3,10), utc(2021,0,30), 604800000)"}, "labelExpr": "utcFormat(datum.value, '%-d/%-m')", "labelAngle": 270, "labelFontSize": 8.5, "labelOverlap": false, "labelFlush": false, "title": null, "grid": false, "tickSize": 3, "labelPadding": 2}}, "y": {"datum": 233, "type": "quantitative", "axis": {"values": [0, 50, 100, 150, 200, 250], "title": null, "labelFontSize": 10, "labelPadding": 7, "labelOverlap": false, "domain": false, "ticks": false, "grid": true}}, "text": {"field": "t"}}},
          {"data": {"name": "dup"}, "mark": {"type": "line", "color": "#102a6b", "strokeWidth": 2.5, "point": {"filled": true, "size": 22, "color": "#102a6b"}}, "encoding": {
            "x": {"field": "d", "type": "temporal", "scale": {"type": "utc", "domain": [{"year": 2020, "month": 4, "date": 10, "utc": true}, {"year": 2021, "month": 2, "date": 4, "utc": true}]}, "axis": {"values": {"expr": "sequence(utc(2020,3,10), utc(2021,0,30), 604800000)"}, "labelExpr": "utcFormat(datum.value, '%-d/%-m')", "labelAngle": 270, "labelFontSize": 8.5, "labelOverlap": false, "labelFlush": false, "title": null, "grid": false, "tickSize": 3, "labelPadding": 2}},
            "y": {"field": "v", "type": "quantitative", "scale": {"domain": [0, 250], "nice": false}, "axis": {"values": [0, 50, 100, 150, 200, 250], "title": null, "labelFontSize": 10, "labelPadding": 7, "labelOverlap": false, "domain": false, "ticks": false, "grid": true}}}}
        ]
      },
      {
        "width": 243, "height": 214,
        "layer": [
          {"data": {"values": [{"t": "g"}]}, "mark": {"type": "rule", "color": "#d9d9d9"}, "encoding": {"x": {"datum": 10, "type": "quantitative"}, "y": {"datum": 1, "type": "quantitative"}, "y2": {"datum": 1000}}},
          {"data": {"values": [{"t": "g"}]}, "mark": {"type": "rule", "color": "#d9d9d9"}, "encoding": {"x": {"datum": 100, "type": "quantitative"}, "y": {"datum": 1, "type": "quantitative"}, "y2": {"datum": 1000}}},
          {"data": {"values": [{"t": "g"}]}, "mark": {"type": "rule", "color": "#d9d9d9"}, "encoding": {"x": {"datum": 1000, "type": "quantitative"}, "y": {"datum": 1, "type": "quantitative"}, "y2": {"datum": 1000}}},
          {"data": {"values": [{"t": "g"}]}, "mark": {"type": "rule", "color": "#d9d9d9"}, "encoding": {"x": {"datum": 10000, "type": "quantitative"}, "y": {"datum": 1, "type": "quantitative"}, "y2": {"datum": 1000}}},
          {"data": {"values": [{"t": "g"}]}, "mark": {"type": "rule", "color": "#d9d9d9"}, "encoding": {"x": {"datum": 100000, "type": "quantitative"}, "y": {"datum": 1, "type": "quantitative"}, "y2": {"datum": 1000}}},
          {"data": {"values": [{"t": "Nuevos Casos vs Total de Casos Misiones"}]}, "mark": {"type": "text", "fontSize": 14, "fontWeight": "bold", "color": "#595959", "align": "center", "baseline": "middle"}, "encoding": {"x": {"datum": 500, "type": "quantitative"}, "y": {"datum": 4000, "type": "quantitative"}, "text": {"field": "t"}}},
          {"data": {"values": [{"t": "(cada punto es el promedio de los últimos 7 días)"}]}, "mark": {"type": "text", "fontSize": 9.5, "color": "#595959", "align": "center", "baseline": "middle"}, "encoding": {"x": {"datum": 500, "type": "quantitative"}, "y": {"datum": 2150, "type": "quantitative"}, "text": {"field": "t"}}},
          {"data": {"name": "nvt"}, "mark": {"type": "line", "color": "#c00000", "strokeWidth": 2, "clip": true, "point": {"filled": true, "size": 22, "color": "#c00000"}}, "encoding": {
            "x": {"field": "total", "type": "quantitative", "scale": {"type": "log", "domain": [10, 100000], "nice": false}, "axis": {"values": [10, 100, 1000, 10000, 100000], "format": "d", "title": "TOTAL DE CASOS", "titleFontSize": 10, "titleFontWeight": "bold", "labelFontSize": 10, "grid": false, "domain": false, "ticks": false, "labelPadding": 6, "titlePadding": 8}},
            "y": {"field": "nuevos", "type": "quantitative", "scale": {"type": "log", "domain": [1, 4900], "nice": false}, "axis": {"values": [1, 10, 100, 1000], "format": "d", "title": "NUEVOS CASOS", "titleFontSize": 10, "titleFontWeight": "bold", "labelFontSize": 10, "grid": true, "domain": false, "ticks": false, "labelPadding": 6, "titlePadding": 10}},
            "order": {"value": null}
          }}
        ]
      }
    ]
  },
  {
    "width": 699, "height": 139,
    "layer": [
      {"layer": [
        {"data": {"values": [{"t": "box"}]}, "mark": {"type": "rect", "fill": "#e7e6e6", "stroke": "#bfbfbf"}, "encoding": {"x": {"datum": {"year": 2020, "month": 5, "date": 19, "utc": true}, "type": "temporal", "axis": {"values": {"expr": "sequence(utc(2020,2,20), utc(2021,0,30), 604800000)"}, "labelExpr": "utcFormat(datum.value, '%-d/%-m')", "labelAngle": 270, "labelFontSize": 9, "labelOverlap": false, "labelFlush": false, "title": null, "grid": false, "tickSize": 4, "labelPadding": 2}}, "x2": {"datum": {"year": 2020, "month": 11, "date": 20, "utc": true}}, "y": {"datum": 3.18, "type": "quantitative", "axis": {"values": [0.4, 0.6, 0.8, 1, 1.2, 1.4, 1.6, 1.8, 2, 2.2, 2.4], "format": ".2f", "title": "INCIDENCIA", "titleFontSize": 10, "labelFontSize": 10, "labelOverlap": false, "domain": false, "ticks": false, "grid": true, "titlePadding": 8}}, "y2": {"datum": 2.82}}},
        {"data": {"values": [{"t": "INCIDENCIA Y FACTOR DE CRECIMIENTO Corrientes"}]}, "mark": {"type": "text", "fontSize": 16.7, "color": "#404040", "align": "center", "baseline": "middle"}, "encoding": {"x": {"datum": {"year": 2020, "month": 8, "date": 20, "utc": true}, "type": "temporal", "axis": {"values": {"expr": "sequence(utc(2020,2,20), utc(2021,0,30), 604800000)"}, "labelExpr": "utcFormat(datum.value, '%-d/%-m')", "labelAngle": 270, "labelFontSize": 9, "labelOverlap": false, "labelFlush": false, "title": null, "grid": false, "tickSize": 4, "labelPadding": 2}}, "y": {"datum": 3.0, "type": "quantitative", "axis": {"values": [0.4, 0.6, 0.8, 1, 1.2, 1.4, 1.6, 1.8, 2, 2.2, 2.4], "format": ".2f", "title": "INCIDENCIA", "titleFontSize": 10, "labelFontSize": 10, "labelOverlap": false, "domain": false, "ticks": false, "grid": true, "titlePadding": 8}}, "text": {"field": "t"}}},
        {"data": {"values": [{"t": "box"}]}, "mark": {"type": "rect", "fill": "#f2f2f2", "stroke": "#bfbfbf"}, "encoding": {"x": {"datum": {"year": 2020, "month": 10, "date": 12, "utc": true}, "type": "temporal", "axis": {"values": {"expr": "sequence(utc(2020,2,20), utc(2021,0,30), 604800000)"}, "labelExpr": "utcFormat(datum.value, '%-d/%-m')", "labelAngle": 270, "labelFontSize": 9, "labelOverlap": false, "labelFlush": false, "title": null, "grid": false, "tickSize": 4, "labelPadding": 2}}, "x2": {"datum": {"year": 2020, "month": 10, "date": 31, "utc": true}}, "y": {"datum": 2.745, "type": "quantitative", "axis": {"values": [0.4, 0.6, 0.8, 1, 1.2, 1.4, 1.6, 1.8, 2, 2.2, 2.4], "format": ".2f", "title": "INCIDENCIA", "titleFontSize": 10, "labelFontSize": 10, "labelOverlap": false, "domain": false, "ticks": false, "grid": true, "titlePadding": 8}}, "y2": {"datum": 2.41}}},
        {"data": {"values": [{"t": "1,62"}]}, "mark": {"type": "text", "fontSize": 12, "color": "#262626", "align": "center", "baseline": "middle"}, "encoding": {"x": {"datum": {"year": 2020, "month": 10, "date": 21, "utc": true}, "type": "temporal", "axis": {"values": {"expr": "sequence(utc(2020,2,20), utc(2021,0,30), 604800000)"}, "labelExpr": "utcFormat(datum.value, '%-d/%-m')", "labelAngle": 270, "labelFontSize": 9, "labelOverlap": false, "labelFlush": false, "title": null, "grid": false, "tickSize": 4, "labelPadding": 2}}, "y": {"datum": 2.58, "type": "quantitative", "axis": {"values": [0.4, 0.6, 0.8, 1, 1.2, 1.4, 1.6, 1.8, 2, 2.2, 2.4], "format": ".2f", "title": "INCIDENCIA", "titleFontSize": 10, "labelFontSize": 10, "labelOverlap": false, "domain": false, "ticks": false, "grid": true, "titlePadding": 8}}, "text": {"field": "t"}}},
        {"data": {"name": "inc"}, "mark": {"type": "line", "strokeWidth": 2.5, "clip": true}, "encoding": {
          "x": {"field": "d", "type": "temporal", "scale": {"type": "utc", "domain": [{"year": 2020, "month": 3, "date": 20, "utc": true}, {"year": 2021, "month": 2, "date": 4, "utc": true}]}, "axis": {"values": {"expr": "sequence(utc(2020,2,20), utc(2021,0,30), 604800000)"}, "labelExpr": "utcFormat(datum.value, '%-d/%-m')", "labelAngle": 270, "labelFontSize": 9, "labelOverlap": false, "labelFlush": false, "title": null, "grid": false, "tickSize": 4, "labelPadding": 2}},
          "y": {"field": "v", "type": "quantitative", "scale": {"domain": [0.4, 2.4], "nice": false, "zero": false}, "axis": {"values": [0.4, 0.6, 0.8, 1, 1.2, 1.4, 1.6, 1.8, 2, 2.2, 2.4], "format": ".2f", "title": "INCIDENCIA", "titleFontSize": 10, "labelFontSize": 10, "labelOverlap": false, "domain": false, "ticks": false, "grid": true, "titlePadding": 8}},
          "color": {"datum": "INCIDENCIA", "type": "nominal", "scale": {"domain": ["INCIDENCIA", "FACTOR DE CRECIMIENTO (promedio centrado 7 días)"], "range": ["#c00000", "#102a6b"]}, "legend": {"orient": "none", "legendX": 219, "legendY": -26, "title": null, "symbolType": "stroke", "symbolStrokeWidth": 3, "symbolSize": 420, "labelFontSize": 8, "labelColor": "#404040", "labelLimit": 0, "fillColor": "#f2f2f2", "strokeColor": "#bfbfbf", "padding": 5, "rowPadding": 4}}
        }},
        {"data": {"values": [{"t": "box"}]}, "mark": {"type": "rect", "fillOpacity": 0, "stroke": "#7f7f7f", "strokeWidth": 1}, "encoding": {"x": {"datum": {"year": 2020, "month": 5, "date": 16, "utc": true}, "type": "temporal", "axis": {"values": {"expr": "sequence(utc(2020,2,20), utc(2021,0,30), 604800000)"}, "labelExpr": "utcFormat(datum.value, '%-d/%-m')", "labelAngle": 270, "labelFontSize": 9, "labelOverlap": false, "labelFlush": false, "title": null, "grid": false, "tickSize": 4, "labelPadding": 2}}, "x2": {"datum": {"year": 2020, "month": 12, "date": 10, "utc": true}}, "y": {"datum": 0.9, "type": "quantitative", "axis": {"values": [0.4, 0.6, 0.8, 1, 1.2, 1.4, 1.6, 1.8, 2, 2.2, 2.4], "format": ".2f", "title": "INCIDENCIA", "titleFontSize": 10, "labelFontSize": 10, "labelOverlap": false, "domain": false, "ticks": false, "grid": true, "titlePadding": 8}}, "y2": {"datum": 0.47}}},
        {"data": {"values": [{"t": "PROMEDIO MAYOR QUE 1, CRECEN LOS CASOS, MENOR QUE 1, BAJAN LOS CASOS"}]}, "mark": {"type": "text", "fontSize": 11, "color": "#262626", "align": "center", "baseline": "middle"}, "encoding": {"x": {"datum": {"year": 2020, "month": 8, "date": 28, "utc": true}, "type": "temporal", "axis": {"values": {"expr": "sequence(utc(2020,2,20), utc(2021,0,30), 604800000)"}, "labelExpr": "utcFormat(datum.value, '%-d/%-m')", "labelAngle": 270, "labelFontSize": 9, "labelOverlap": false, "labelFlush": false, "title": null, "grid": false, "tickSize": 4, "labelPadding": 2}}, "y": {"datum": 0.685, "type": "quantitative", "axis": {"values": [0.4, 0.6, 0.8, 1, 1.2, 1.4, 1.6, 1.8, 2, 2.2, 2.4], "format": ".2f", "title": "INCIDENCIA", "titleFontSize": 10, "labelFontSize": 10, "labelOverlap": false, "domain": false, "ticks": false, "grid": true, "titlePadding": 8}}, "text": {"field": "t"}}}
      ]},
      {"data": {"name": "fc"}, "mark": {"type": "line", "strokeWidth": 2.5, "clip": true}, "encoding": {
        "x": {"field": "d", "type": "temporal", "axis": {"values": {"expr": "sequence(utc(2020,2,20), utc(2021,0,30), 604800000)"}, "labelExpr": "utcFormat(datum.value, '%-d/%-m')", "labelAngle": 270, "labelFontSize": 9, "labelOverlap": false, "labelFlush": false, "title": null, "grid": false, "tickSize": 4, "labelPadding": 2}},
        "y": {"field": "v", "type": "quantitative", "scale": {"domain": [0.8, 1.2], "nice": false, "zero": false}, "axis": {"orient": "right", "values": [0.8, 0.85, 0.9, 0.95, 1, 1.05, 1.1, 1.15, 1.2], "format": ".2f", "title": "FC", "titleFontSize": 10, "labelFontSize": 10, "labelOverlap": false, "domain": false, "ticks": false, "grid": false, "labelPadding": 8, "titlePadding": 8}},
        "color": {"datum": "FACTOR DE CRECIMIENTO (promedio centrado 7 días)", "type": "nominal"}
      }}
    ],
    "resolve": {"scale": {"y": "independent"}}
  },
  {
    "title": {"text": "PROMEDIO CASOS CONFIRMADOS SEMANALES Misiones", "fontSize": 17, "fontWeight": "bold", "color": "#262626", "anchor": "middle", "offset": 30},
    "spacing": 4,
    "hconcat": [
      {
        "width": 130, "height": 340,
        "data": {"name": "sem"},
        "view": {"fill": "#dce8f5", "stroke": "#4d72a6", "strokeWidth": 1},
        "encoding": {"y": {"field": "dias", "type": "ordinal", "sort": "descending", "scale": {"paddingInner": 0.45, "paddingOuter": 0.25}, "axis": null}},
        "layer": [
          {"mark": {"type": "text", "fontSize": 10, "color": "#262626"}, "encoding": {"x": {"datum": 0.26, "type": "quantitative", "scale": {"domain": [0, 1]}, "axis": null}, "text": {"field": "fin"}}},
          {"mark": {"type": "text", "fontSize": 10, "color": "#262626"}, "encoding": {"x": {"datum": 0.75, "type": "quantitative", "axis": null}, "text": {"field": "ini"}}}
        ]
      },
      {
        "width": 560, "height": 340,
        "data": {"name": "sem"},
        "view": {"fill": {"gradient": "radial", "x1": 0.65, "y1": 0.3, "r1": 0, "x2": 0.65, "y2": 0.3, "r2": 0.9, "stops": [{"offset": 0, "color": "#ffffff"}, {"offset": 1, "color": "#cfcfcf"}]}, "stroke": null},
        "encoding": {"y": {"field": "dias", "type": "ordinal", "sort": "descending", "scale": {"paddingInner": 0.45, "paddingOuter": 0.25}, "axis": {"title": "DÍAS", "titleFontSize": 9, "titleFontWeight": "bold", "titleColor": "#262626", "labelFontSize": 11, "labelColor": "#595959", "domainColor": "#1a1a1a", "domainWidth": 2.5, "ticks": false, "labelPadding": 8, "titlePadding": 3, "grid": false}}},
        "layer": [
          {"mark": {"type": "bar", "color": "#5b9bd5"}, "encoding": {"x": {"field": "v", "type": "quantitative", "scale": {"domain": [0, 250], "nice": false}, "axis": {"values": [0, 50, 100, 150, 200, 250], "labelExpr": "datum.value == 0 ? '-' : datum.label", "title": "CASOS CONFIRMADOS", "titleFontSize": 9, "titleFontWeight": "bold", "titleColor": "#404040", "labelFontSize": 10, "grid": true, "gridColor": "#8c8c8c", "domain": false, "ticks": false, "labelPadding": 8, "titlePadding": 6}}}},
          {"mark": {"type": "rule", "color": "#404040", "strokeWidth": 1}, "encoding": {"x": {"field": "lo", "type": "quantitative"}, "x2": {"field": "hi"}}},
          {"mark": {"type": "tick", "color": "#404040", "thickness": 1, "size": 7}, "encoding": {"x": {"field": "lo", "type": "quantitative"}}},
          {"mark": {"type": "tick", "color": "#404040", "thickness": 1, "size": 7}, "encoding": {"x": {"field": "hi", "type": "quantitative"}}},
          {"mark": {"type": "bar", "color": "#e9e9e9"}, "encoding": {"x": {"datum": 1.3, "type": "quantitative"}, "x2": {"datum": 10.8}}},
          {"mark": {"type": "text", "fontSize": 11, "fontWeight": "bold", "color": "#1a1a1a", "align": "left", "baseline": "middle"}, "encoding": {"x": {"datum": 3.6, "type": "quantitative"}, "text": {"field": "v"}}}
        ]
      }
    ]
  }
]
}
